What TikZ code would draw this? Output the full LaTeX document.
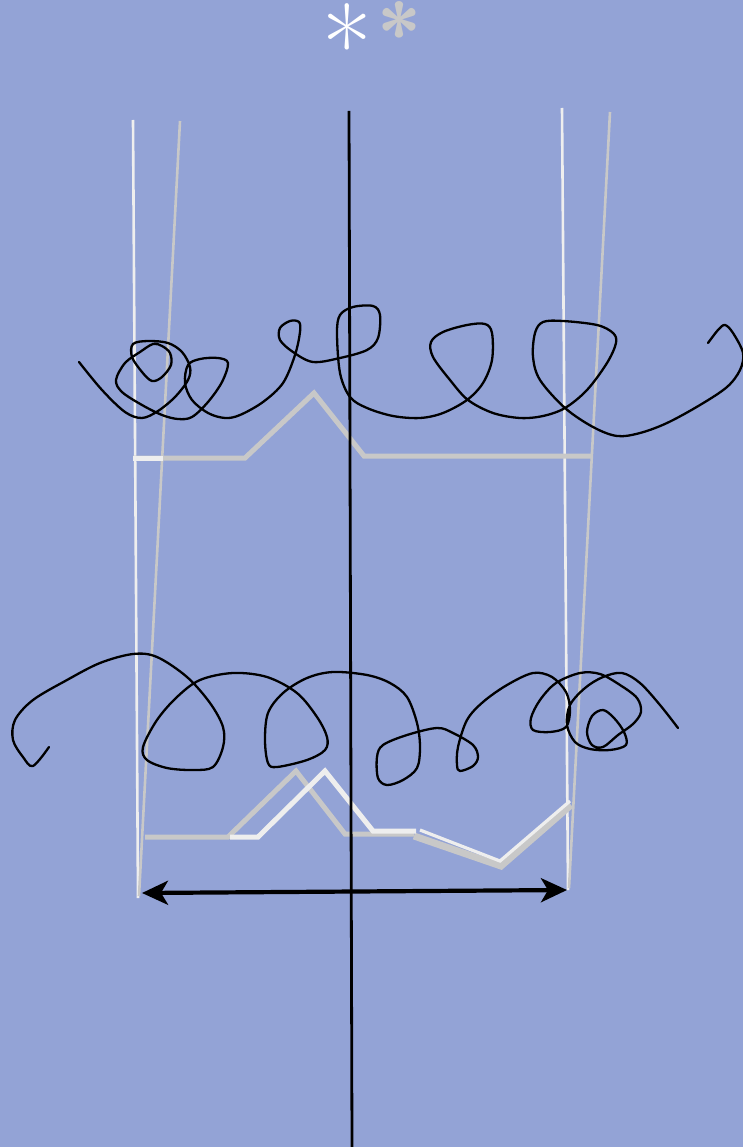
\documentclass[tikz,border=0pt]{standalone}
\usetikzlibrary{arrows.meta}
\definecolor{bgblue}{HTML}{93A3D6}
\definecolor{offwhite}{HTML}{EEEEEE}
\definecolor{lgray}{HTML}{C8C8C8}
\begin{document}
\begin{tikzpicture}[x=1pt,y=-1pt,
  guide/.style={line width=2.6pt},
  poly/.style={line width=5pt,line join=miter},
  scribble/.style={line width=2.3pt,black,line cap=round,line join=round},
  measure/.style={line width=4.2pt,{Stealth[length=26pt,width=24pt,inset=7pt]}-{Stealth[length=26pt,width=24pt,inset=7pt]}}]
\fill[bgblue] (0,0) rectangle (743,1147);
\useasboundingbox (0,0) rectangle (743,1147);
% asterisks
\node[text=white,font=\fontsize{108}{108}\selectfont,inner sep=0pt] (s1) at (347,44) {*};
\node[text=lgray,font=\fontsize{80}{80}\selectfont\sffamily\bfseries,inner sep=0pt] (s2) at (399,32) {*};
% guide coordinates
\coordinate (wlT) at (133,120); \coordinate (wlB) at (138,898);
\coordinate (glT) at (180,121); \coordinate (glB) at (139,896);
\coordinate (wrT) at (562,108); \coordinate (wrB) at (568,890);
\coordinate (grT) at (610,112); \coordinate (grB) at (569,888);
\coordinate (cT) at (349,111); \coordinate (cB) at (352,1147);
\draw[guide,offwhite] (wlT) -- (wlB);
\draw[guide,lgray] (glT) -- (glB);
\draw[guide,offwhite] (wrT) -- (wrB);
\draw[guide,lgray] (grT) -- (grB);
% upper polyline
\draw[poly,lgray] (133,458) -- (245,458) -- (314,393) -- (364,456) -- (591,456);
\draw[poly,offwhite] (133,458) -- (163,458);
% lower polylines
\draw[poly,lgray] (145,837) -- (228,837) -- (296,771) -- (345,834) -- (414,834);
\draw[line width=7pt,lgray,line join=miter] (414,836) -- (501,866) -- (571,805);
\draw[poly,offwhite] (230,837) -- (258,837) -- (325,771) -- (373,831) -- (416,831);
\draw[line width=3.2pt,offwhite] (420,830) -- (500,861) -- (570,801);
% center line
\draw[line width=2.8pt,black] (cT) -- (cB);
% upper scribble
\draw[scribble] plot[smooth,tension=0.55] coordinates {
(79,362) (102,390) (125,412) (142,418) (158,411) (175,397) (188,380) (190,367)
(182,352) (168,343) (148,341) (133,344) (132,357) (142,372) (152,381) (162,377)
(171,365) (170,353) (162,346) (153,344) (140,352) (125,363) (116,380) (122,392)
(142,405) (162,415) (178,419) (192,417) (208,402) (222,382) (228,363) (218,358)
(200,359) (188,365) (185,383) (192,400) (208,413) (225,418) (240,415) (263,402)
(283,383) (295,355) (300,332) (299,322) (290,321) (280,328) (280,340) (293,352)
(313,362) (340,358) (367,350) (378,338) (380,315) (373,306) (353,307) (340,315)
(337,333) (340,373) (350,397) (367,408) (393,416) (420,418) (443,413) (467,400)
(483,383) (492,360) (492,333) (485,324) (467,325) (443,332) (431,342) (433,357)
(450,380) (468,400) (493,413) (520,418) (543,416) (565,408) (587,390) (607,363)
(616,343) (613,333) (597,325) (563,321) (543,322) (535,333) (533,357) (540,380)
(565,408) (593,427) (617,436) (640,433) (667,423) (700,405) (727,387) (740,370)
(743,353) (733,333) (725,325) (718,330) (708,343)};
% lower scribble
\draw[scribble] plot[smooth,tension=0.55] coordinates {
(49,747) (33,766) (23,757) (13,740) (15,720) (33,700) (67,680) (100,663)
(133,654) (157,657) (187,677) (210,703) (223,727) (223,747) (213,767) (193,770)
(167,768) (147,760) (143,747) (157,720) (177,697) (200,680) (233,673) (267,677)
(297,693) (317,717) (327,737) (325,750) (307,760) (277,767) (268,763) (265,740)
(268,713) (283,693) (307,678) (333,672) (367,675) (390,683) (407,697) (417,723)
(420,747) (417,768) (403,780) (387,785) (378,778) (377,757) (383,745) (407,735)
(437,728) (453,733) (473,745) (478,757) (473,766) (460,771) (457,765) (458,747)
(467,720) (483,702) (507,685) (533,673) (552,677) (566,692) (570,710) (566,727)
(550,732) (533,730) (531,718) (540,700) (556,683) (580,673) (600,674) (620,685)
(637,698) (641,712) (633,724) (618,735) (603,747) (592,745) (587,732) (592,716)
(603,710) (614,718) (624,732) (626,745) (610,750) (590,749) (575,742) (567,725)
(570,705) (585,688) (603,677) (622,673) (640,683) (660,705) (678,728)};
% measurement arrow
\coordinate (aL) at (142,893); \coordinate (aR) at (567,890);
\draw[measure] (aL) -- (aR);
\end{tikzpicture}
\end{document}
